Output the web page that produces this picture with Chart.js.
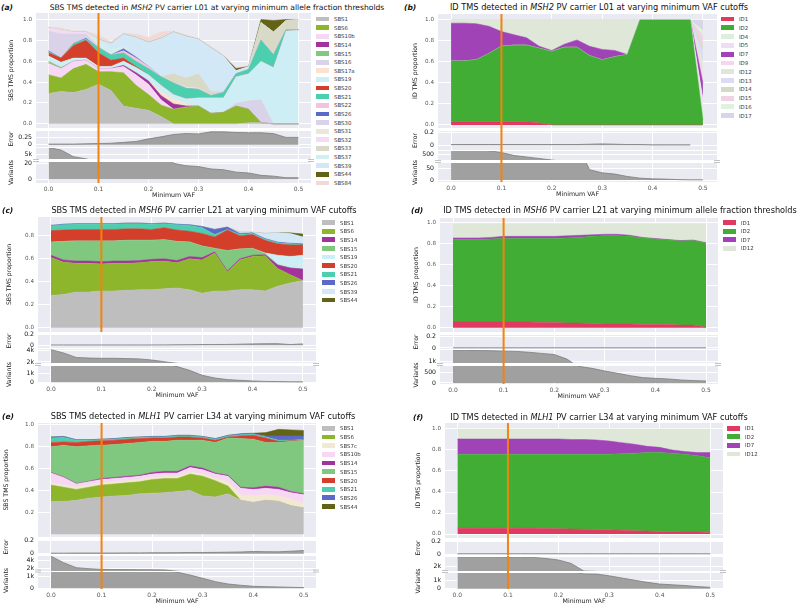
<!DOCTYPE html>
<html>
<head>
<meta charset="utf-8">
<script src="https://cdn.jsdelivr.net/npm/chart.js@4.4.0/dist/chart.umd.min.js"></script>
<style>
  body { margin: 0; background: #fff; font-family: "DejaVu Sans", sans-serif; }
  #fig { position: relative; width: 800px; height: 607px; overflow: hidden; }
  canvas { position: absolute; }
  .ptitle { position: absolute; white-space: nowrap; font-size: 8.2px; color: #111; transform: translate(-50%, -50%); }
  .plabel { position: absolute; font-weight: bold; font-style: italic; font-size: 7.5px; color: #111; transform: translateY(-50%); }
  .leg { position: absolute; font-size: 5.4px; color: #3a3a3a; white-space: nowrap; display: flex; align-items: center; transform: translateY(-50%); }
  .leg .sw { display: inline-block; width: 13px; height: 4.8px; margin-right: 5px; }
</style>
</head>
<body>
<div id="fig"></div>
<script>
// ---- data ----
const vaf = [0, 0.025, 0.05, 0.075, 0.1, 0.125, 0.15, 0.175, 0.2, 0.225, 0.25, 0.275, 0.3, 0.325, 0.35, 0.375, 0.4, 0.425, 0.45, 0.475, 0.5];
const markVaf = 0.1;
const xTicks = [0, 0.1, 0.2, 0.3, 0.4, 0.5];
const propTicks = [0, 0.2, 0.4, 0.6, 0.8, 1.0];
const cPropTicks = [0, 0.2, 0.4, 0.6, 0.8];
const ePropTicks = [0.2, 0.4, 0.6, 0.8, 1.0];
const aErrTicks = [0, 0.25];
const errTicks = [0, 0.2];

// (a) SBS, MSH2 L01
const aSigs = ['SBS1','SBS6','SBS10b','SBS14','SBS15','SBS16','SBS17a','SBS19','SBS20','SBS21','SBS22','SBS26','SBS30','SBS31','SBS32','SBS33','SBS37','SBS39','SBS44','SBS84'];
const aProps = [
  [.29,.31,.30,.33,.38,.32,.17,.15,.13,.07,0,0,0,0,0,0,.01,.01,0,0,0],
  [.18,.13,.23,.24,.12,.18,.32,.22,.15,.11,.14,.16,.17,.10,.11,.17,.13,0,0,0,0],
  [.11,.09,.07,.04,.03,.03,.06,.10,.10,.05,0,0,0,0,0,0,0,0,0,0,0],
  [0,0,0,0,0,0,.01,.02,.03,.04,.05,.01,0,0,0,0,0,0,0,0,0],
  [.02,.01,0,0,0,0,0,0,0,0,0,0,0,0,0,0,0,0,0,0,0],
  [0,0,0,0,0,0,0,0,0,0,0,0,0,0,0,.03,.08,.22,0,0,0],
  [0,0,0,0,0,0,0,0,0,.04,.05,.02,0,0,0,0,0,0,0,0,0],
  [.05,.05,.03,.02,.02,.02,.04,.05,.06,.06,.04,.05,.08,.15,.14,.25,.26,.37,.54,.89,.90],
  [.03,.04,.12,.17,.13,.06,.03,.01,0,0,0,0,0,0,0,0,0,0,0,0,0],
  [.01,0,.02,.01,.05,.05,.05,.05,.06,.08,.11,.10,.08,.02,.05,.03,.04,.20,.12,.01,0],
  [0,0,0,0,0,0,.02,.03,.02,0,0,0,0,0,0,0,0,0,0,0,0],
  [.01,0,0,.01,0,0,.02,.01,0,0,0,0,0,0,0,0,0,0,0,0,0],
  [.19,.23,.09,.04,.01,0,0,0,0,0,0,0,0,0,0,0,0,0,0,0,0],
  [0,0,0,0,0,0,0,0,0,0,0,.01,.01,0,0,0,0,0,0,0,0],
  [.03,.04,.02,.02,.01,0,0,0,0,0,0,0,0,0,0,0,0,0,0,0,0],
  [0,0,0,0,0,0,0,0,0,0,.09,.09,.14,.04,.01,0,0,.17,.22,.09,.10],
  [0,0,0,0,.06,.05,.02,0,0,0,0,0,0,0,0,0,0,0,0,0,0],
  [0,0,0,0,0,.06,.12,.19,.23,.37,.40,.40,.33,.42,.34,.03,.03,0,0,0,0],
  [0,0,0,0,0,0,0,0,0,0,0,0,0,0,0,.02,0,.03,.11,.01,0],
  [.01,.02,.01,.01,.04,.02,.01,.03,.05,.06,.01,.01,.01,.01,.01,.01,.01,0,.01,0,0]
];
const aError = [.02,.02,.02,.03,.04,.05,.08,.11,.20,.27,.35,.38,.37,.44,.44,.42,.41,.41,.38,.25,.25];
const aVariants = [7400,6500,4200,3450,2500,1500,800,300,100,40,20,17,16,13,12,9,8,5,4,2,2];
const aVarHiTicks = [5000];
const aVarLoTicks = [0, 20];

// (b) ID, MSH2 L01
const bSigs = ['ID1','ID2','ID4','ID5','ID7','ID9','ID12','ID13','ID14','ID15','ID16','ID17'];
const bProps = [
  [.03,.03,.03,.03,.03,.03,.03,.02,0,0,0,0,0,0,0,0,0,0,0,0,0],
  [.58,.58,.59,.65,.72,.73,.73,.71,.70,.74,.74,.66,.62,.65,.67,1,1,1,1,1,.05],
  [0,0,0,0,0,0,0,0,0,0,0,0,0,0,0,0,0,0,0,0,.10],
  [0,0,0,0,0,0,0,0,0,0,0,0,0,0,0,0,0,0,0,0,.10],
  [.36,.36,.345,.26,.14,.10,.07,.02,.01,.03,.07,.09,.10,.06,0,0,0,0,0,0,.15],
  [0,0,0,0,0,0,0,0,0,0,0,0,0,0,0,0,0,0,0,0,.10],
  [.03,.03,.035,.06,.11,.14,.17,.25,.29,.23,.19,.25,.28,.29,.33,0,0,0,0,0,.10],
  [0,0,0,0,0,0,0,0,0,0,0,0,0,0,0,0,0,0,0,0,.10],
  [0,0,0,0,0,0,0,0,0,0,0,0,0,0,0,0,0,0,0,0,.05],
  [0,0,0,0,0,0,0,0,0,0,0,0,0,0,0,0,0,0,0,0,.10],
  [0,0,0,0,0,0,0,0,0,0,0,0,0,0,0,0,0,0,0,0,.05],
  [0,0,0,0,0,0,0,0,0,0,0,0,0,0,0,0,0,0,0,0,.10]
];
const bError = [.01,.01,.01,.01,.01,.01,.01,.01,.01,.01,.01,.015,.02,.015,.01,.01,.005,.005,.005,.005,null];
const bVariants = [690,690,680,620,554,445,390,335,280,220,150,43,30,25,15,8,5,4,2,1,1];
const bVarHiTicks = [500];
const bVarLoTicks = [0, 50];

// (c) SBS, MSH6 L21
const cSigs = ['SBS1','SBS6','SBS14','SBS15','SBS19','SBS20','SBS21','SBS26','SBS39','SBS44'];
const cProps = [
  [.28,.29,.31,.31,.32,.32,.325,.33,.33,.34,.345,.33,.30,.32,.32,.33,.33,.32,.36,.39,.41],
  [.33,.28,.25,.25,.235,.24,.235,.235,.245,.24,.22,.27,.29,.33,.165,.26,.29,.305,.155,.07,0],
  [.02,.02,.02,.02,.02,.02,.02,.02,.02,.02,.02,.02,.02,.01,.01,.01,.01,.01,.03,.06,.10],
  [.115,.16,.175,.175,.18,.175,.18,.175,.165,.165,.165,.125,.10,.03,.175,.085,.06,.01,.005,0,0],
  [0,0,0,0,0,0,0,0,0,0,0,0,0,0,0,0,0,.005,.08,.10,.12],
  [.10,.10,.10,.10,.10,.10,.10,.10,.095,.105,.10,.095,.11,.10,.18,.115,.12,.11,.10,.10,.09],
  [.04,.045,.045,.045,.045,.045,.045,.045,.045,.035,.045,.05,.05,.02,.005,.01,.01,.01,.01,.01,0],
  [.005,.005,.005,.005,.005,.005,.005,.005,.005,.005,.005,.005,.01,.045,.02,.01,.005,.005,.005,.005,.01],
  [0,0,0,0,0,0,0,0,0,0,0,0,0,0,0,.01,.005,.045,.08,.085,.06],
  [0,0,0,0,0,0,0,0,0,0,0,0,0,0,0,0,0,0,0,.005,.025]
];
const cError = [.005,.005,.005,.005,.005,.005,.005,.005,.005,.006,.008,.01,.012,.013,.015,.02,.025,.028,.03,.012,.025];
const cVariants = [4180,3600,2800,2700,2650,2650,2600,2550,2350,2050,1750,1330,780,480,300,220,150,100,80,60,50];
const cVarHiTicks = [2000, 4000];
const cVarLoTicks = [0, 1000];

// (d) ID, MSH6 L21
const dSigs = ['ID1','ID2','ID7','ID12'];
const dProps = [
  [.055,.055,.055,.055,.055,.055,.055,.05,.05,.045,.045,.04,.035,.035,.035,.03,.03,.03,.025,.025,.005],
  [.785,.785,.785,.79,.795,.795,.795,.80,.80,.81,.815,.83,.84,.84,.835,.825,.815,.805,.80,.805,.80],
  [.015,.015,.015,.015,.02,.02,.02,.02,.02,.02,.02,.015,.015,.015,.01,.005,.005,.005,.005,.005,.005],
  [.135,.135,.135,.13,.12,.12,.12,.12,.12,.115,.11,.105,.10,.10,.11,.13,.14,.15,.16,.155,.18]
];
const dError = [.003,.003,.003,.003,.003,.003,.003,.003,.003,.003,.003,.003,.003,.003,.003,.003,.003,.003,.003,.003,.003];
const dVariants = [1410,1405,1400,1395,1380,1370,1340,1300,1260,1100,800,710,580,470,355,260,225,195,145,115,95];
const dVarHiTicks = [1000];
const dVarLoTicks = [0, 500];

// (e) SBS, MLH1 L34
const eSigs = ['SBS1','SBS6','SBS7c','SBS10b','SBS14','SBS15','SBS20','SBS21','SBS26','SBS44'];
const eProps = [
  [.30,.30,.31,.33,.34,.35,.355,.37,.375,.38,.39,.40,.35,.34,.37,.31,.29,.31,.30,.26,.24],
  [.15,.13,.10,.10,.11,.11,.115,.11,.125,.13,.12,.15,.18,.15,.07,0,0,0,0,0,0],
  [.02,.02,.02,.02,.02,.02,.02,.02,.02,.02,.02,.02,.02,.02,.04,.05,.06,.05,.05,.06,.04],
  [.09,.07,.03,.03,.03,.03,.03,.03,.03,.03,.03,.04,.04,.04,.05,.06,.06,.06,.06,.06,.08],
  [.005,.005,.005,.005,.01,.01,.01,.01,.015,.015,.015,.015,.015,.01,.01,.01,.015,.02,.02,.01,.01],
  [.235,.29,.335,.325,.305,.30,.30,.30,.285,.275,.285,.235,.255,.28,.34,.445,.445,.40,.41,.46,.49],
  [.04,.03,.04,.04,.04,.04,.04,.035,.03,.03,.03,.03,.02,.02,.01,.025,.035,.04,.01,.005,.005],
  [.04,.04,.02,.01,.01,.01,.01,.01,.01,.01,.01,.01,.01,.01,.01,.01,.01,.01,.01,.005,.005],
  [.01,.01,.005,.005,.005,.005,.005,.005,.005,.005,.005,.005,.005,.005,.005,.005,.005,.01,.04,.04,.03],
  [0,0,0,0,0,0,0,0,0,0,0,0,0,0,0,.005,.005,.03,.06,.055,.05]
];
const eError = [.01,.01,.012,.012,.012,.012,.014,.014,.016,.016,.018,.02,.02,.022,.025,.028,.035,.032,.03,.04,.05];
const eVariants = [5000,3440,2240,2000,1840,1800,1780,1760,1740,1700,1370,1140,860,570,370,260,170,140,115,85,60];
const eVarHiTicks = [2000, 4000];
const eVarLoTicks = [0, 1000];

// (f) ID, MLH1 L34
const fSigs = ['ID1','ID2','ID7','ID12'];
const fProps = [
  [.055,.055,.055,.055,.055,.055,.055,.052,.05,.048,.045,.042,.04,.035,.03,.028,.025,.022,.02,.018,.015],
  [.705,.705,.705,.705,.705,.705,.705,.708,.71,.712,.715,.718,.72,.73,.74,.747,.75,.748,.74,.727,.71],
  [.145,.145,.145,.145,.145,.145,.145,.145,.145,.14,.14,.135,.125,.105,.085,.06,.05,.03,.025,.03,.05],
  [.095,.095,.095,.095,.095,.095,.095,.095,.095,.10,.10,.105,.115,.13,.145,.165,.175,.20,.215,.225,.225]
];
const fError = [.003,.003,.003,.003,.003,.003,.003,.003,.003,.003,.003,.003,.003,.003,.003,.003,.003,.003,.003,.003,.003];
const fVariants = [2460,2460,2460,2460,2450,2440,2430,2380,2310,2150,1800,1780,1570,1300,1040,780,570,480,390,260,175];
const fVarHiTicks = [2000];
const fVarLoTicks = [0, 1000];

// ---- styles ----
const sigColors = {
  SBS1: '#bebebe', SBS6: '#8db62c', SBS7c: '#f3e9d2', SBS10b: '#f6d8f4', SBS14: '#a3329c',
  SBS15: '#80c880', SBS16: '#d9d3ea', SBS17a: '#fbe3d1', SBS19: '#cdeef4', SBS20: '#d33f2a',
  SBS21: '#4ccfae', SBS22: '#f6c3dc', SBS26: '#5b6ac8', SBS30: '#d9d2e8', SBS31: '#e8e9d8',
  SBS32: '#f3dcf3', SBS33: '#d9d9c8', SBS37: '#d3eeee', SBS39: '#d3e8f6', SBS44: '#626317',
  SBS84: '#f1d9d6',
  ID1: '#e03a60', ID2: '#41ad34', ID4: '#daf0dc', ID5: '#f1dcf6', ID7: '#a043b6', ID9: '#f5d6ec',
  ID12: '#dfe8d8', ID13: '#dddaf5', ID14: '#d0dcc6', ID15: '#f1d1e5', ID16: '#def2de', ID17: '#d8d4ea'
};
const AREA_GRAY = '#a0a0a0';
const ORANGE = '#f5820f';

const panels = [
  { x0: 0, label: '(a)', labelX: 1, titleX: 217, titleY: 7, titleSize: 7.6,
    title: ['SBS TMS detected in ', 'MSH2', ' PV carrier L01 at varying minimum allele fraction thresholds'],
    ytitle: 'SBS TMS proportion', ytitleX: 11, plotL: 36, plotR: 311, xmin: -0.025, xmax: 0.525,
    sigs: aSigs, props: aProps, error: aError, variants: aVariants, orangeAll: true,
    prop: { top: 13, bot: 128, min: -0.04, max: 1.062, ticks: propTicks },
    err: { top: 131, bot: 147, min: -0.08, max: 0.47, ticks: aErrTicks },
    vu: { top: 148, bot: 159, min: 3400, max: 7200, ticks: aVarHiTicks },
    vl: { top: 162, bot: 183, min: -4.6, max: 21.7, ticks: aVarLoTicks },
    legX: 316, legY: 19, legDy: 8.63 },
  { x0: 400, label: '(b)', labelX: 404, titleX: 599, titleY: 7, titleSize: 8.2,
    title: ['ID TMS detected in ', 'MSH2', ' PV carrier L01 at varying minimum VAF cutoffs'],
    ytitle: 'ID TMS proportion', ytitleX: 415.5, plotL: 438, plotR: 717, xmin: -0.026, xmax: 0.528,
    sigs: bSigs, props: bProps, error: bError, variants: bVariants, orangeAll: true,
    prop: { top: 14, bot: 128, min: -0.029, max: 1.057, ticks: propTicks },
    err: { top: 131, bot: 150, min: -0.075, max: 0.22, ticks: errTicks },
    vu: { top: 151, bot: 160, min: 280, max: 610, ticks: bVarHiTicks },
    vl: { top: 163, bot: 182, min: -8, max: 71, ticks: bVarLoTicks },
    legX: 721, legY: 19, legDy: 8.79 },
  { x0: 0, label: '(c)', labelX: 2, titleX: 204, titleY: 210, titleSize: 8.2,
    title: ['SBS TMS detected in ', 'MSH6', ' PV carrier L21 at varying minimum VAF cutoffs'],
    ytitle: 'SBS TMS proportion', ytitleX: 9.5, plotL: 38, plotR: 316, xmin: -0.0258, xmax: 0.526,
    sigs: cSigs, props: cProps, error: cError, variants: cVariants, orangeAll: false,
    prop: { top: 217, bot: 332, min: -0.037, max: 0.963, ticks: cPropTicks },
    err: { top: 333.5, bot: 347, min: -0.054, max: 0.216, ticks: errTicks },
    vu: { top: 349, bot: 363, min: 1820, max: 4300, ticks: cVarHiTicks },
    vl: { top: 366, bot: 383, min: -78, max: 1810, ticks: cVarLoTicks },
    legX: 322, legY: 222.7, legDy: 8.6 },
  { x0: 400, label: '(d)', labelX: 411, titleX: 620, titleY: 210, titleSize: 8.2,
    title: ['ID TMS detected in ', 'MSH6', ' PV carrier L21 at varying minimum allele fraction thresholds'],
    ytitle: 'ID TMS proportion', ytitleX: 416.5, plotL: 440, plotR: 718, xmin: -0.0257, xmax: 0.5237,
    sigs: dSigs, props: dProps, error: dError, variants: dVariants, orangeAll: true,
    prop: { top: 218, bot: 332, min: -0.041, max: 1.045, ticks: propTicks },
    err: { top: 335, bot: 349, min: -0.017, max: 0.217, ticks: errTicks },
    vu: { top: 350, bot: 363, min: 960, max: 1420, ticks: dVarHiTicks },
    vl: { top: 366, bot: 384, min: -50, max: 825, ticks: dVarLoTicks },
    legX: 723, legY: 222.7, legDy: 8.53 },
  { x0: 0, label: '(e)', labelX: 2, titleX: 203, titleY: 416, titleSize: 8.2,
    title: ['SBS TMS detected in ', 'MLH1', ' PV carrier L34 at varying minimum VAF cutoffs'],
    ytitle: 'SBS TMS proportion', ytitleX: 6.5, plotL: 38, plotR: 316, xmin: -0.0257, xmax: 0.524,
    sigs: eSigs, props: eProps, error: eError, variants: eVariants, orangeAll: true,
    prop: { top: 423, bot: 537, min: -0.026, max: 1.018, ticks: ePropTicks },
    err: { top: 540, bot: 554, min: -0.003, max: 0.211, ticks: errTicks },
    vu: { top: 555.5, bot: 570, min: 1440, max: 5040, ticks: eVarHiTicks },
    vl: { top: 572, bot: 589, min: -60, max: 1400, ticks: eVarLoTicks },
    legX: 322, legY: 428.3, legDy: 8.7 },
  { x0: 400, label: '(f)', labelX: 413, titleX: 599, titleY: 417, titleSize: 8.2,
    title: ['ID TMS detected in ', 'MLH1', ' PV carrier L34 at varying minimum VAF cutoffs'],
    ytitle: 'ID TMS proportion', ytitleX: 418, plotL: 445, plotR: 723, xmin: -0.0244, xmax: 0.525,
    sigs: fSigs, props: fProps, error: fError, variants: fVariants, orangeAll: true,
    prop: { top: 423, bot: 538, min: -0.038, max: 1.057, ticks: propTicks },
    err: { top: 541, bot: 555, min: -0.016, max: 0.211, ticks: errTicks },
    vu: { top: 556.5, bot: 570, min: 1800, max: 2450, ticks: fVarHiTicks },
    vl: { top: 573, bot: 589, min: -30, max: 1910, ticks: fVarLoTicks },
    legX: 727, legY: 428.3, legDy: 8.57 }
];

// ---- drawing ----
Chart.defaults.font.family = "'DejaVu Sans', sans-serif";
const fig = document.getElementById('fig');
const PAD = 8, PADR = 8, XAX = 16;

const fmtProp = v => v.toFixed(1);
const fmtErr = v => (v === 0 ? '0' : String(v));
const fmtVar = v => (v >= 1000 ? (v / 1000) + 'k' : String(v));
const pts = arr => vaf.map((x, i) => ({ x: x, y: arr[i] }));

const bgPlugin = {
  id: 'panelBg',
  beforeDraw(chart) {
    const a = chart.chartArea, ctx = chart.ctx;
    ctx.save();
    ctx.fillStyle = '#eaeaf2';
    ctx.fillRect(a.left, a.top, a.right - a.left, a.bottom - a.top);
    ctx.restore();
  }
};

function markPlugin(showOrange, gap, isTop, isBottom) {
  return {
    id: 'marks',
    afterDatasetsDraw(chart) {
      const a = chart.chartArea, ctx = chart.ctx;
      if (isBottom) {
        // broken-axis markers between the two variant axes
        const y = a.top - gap / 2;
        ctx.save();
        ctx.strokeStyle = '#b4b4b4';
        ctx.lineWidth = 0.8;
        [a.left, a.right].forEach(x => {
          ctx.beginPath();
          ctx.moveTo(x - 3, y - 1); ctx.lineTo(x + 3, y - 1);
          ctx.moveTo(x - 3, y + 1); ctx.lineTo(x + 3, y + 1);
          ctx.stroke();
        });
        ctx.restore();
      }
      if (!showOrange) return;
      const x = chart.scales.x.getPixelForValue(markVaf);
      ctx.save();
      ctx.strokeStyle = ORANGE;
      ctx.lineWidth = 2;
      ctx.beginPath();
      ctx.moveTo(x, a.top - (isTop ? 0 : gap));
      ctx.lineTo(x, a.bottom);
      ctx.stroke();
      ctx.restore();
    }
  };
}

function addCanvas(left, top, w, h) {
  const c = document.createElement('canvas');
  c.width = w; c.height = h;
  c.style.left = left + 'px'; c.style.top = top + 'px';
  c.style.width = w + 'px'; c.style.height = h + 'px';
  fig.appendChild(c);
  return c;
}

function grayArea(values) {
  return { data: pts(values), backgroundColor: AREA_GRAY, borderColor: '#7c7c7c', borderWidth: 0.8,
           fill: 'origin', pointRadius: 0, tension: 0 };
}

function subChart(p, kind, datasets, gap) {
  const sub = p[kind];
  const isProp = kind === 'prop';
  const isBottom = kind === 'vl';
  const padTop = PAD, padBot = isBottom ? 1 : PAD;
  const axisW = p.plotL - p.x0;
  const w = p.plotR + PADR - p.x0;
  const h = Math.round(padTop + (sub.bot - sub.top) + (isBottom ? XAX : 0) + padBot);
  const cv = addCanvas(p.x0, sub.top - padTop, w, h);
  const yTitle = isProp ? p.ytitle : kind === 'err' ? 'Error' : kind === 'vl' ? 'Variants' : '';
  const fmt = isProp ? fmtProp : kind === 'err' ? fmtErr : fmtVar;

  new Chart(cv, {
    type: 'line',
    data: { datasets: datasets },
    options: {
      responsive: false,
      animation: false,
      devicePixelRatio: 1,
      layout: { padding: { top: padTop, bottom: padBot, left: 0, right: PADR } },
      plugins: { legend: { display: false }, tooltip: { enabled: false } },
      scales: {
        x: {
          type: 'linear', min: p.xmin, max: p.xmax,
          afterBuildTicks: s => { s.ticks = xTicks.map(v => ({ value: v })); },
          afterFit: s => { s.height = isBottom ? XAX : 0; },
          grid: { color: '#ffffff', lineWidth: 1, drawTicks: false },
          border: { display: false },
          ticks: { display: isBottom, padding: 2.5, color: '#555', font: { size: 6 },
                   autoSkip: false, maxRotation: 0, callback: v => v.toFixed(1) },
          title: { display: isBottom, text: 'Minimum VAF', color: '#222', font: { size: 6.3 },
                   padding: { top: 0, bottom: 0 } }
        },
        y: {
          type: 'linear', stacked: isProp, min: sub.min, max: sub.max,
          afterBuildTicks: s => { s.ticks = sub.ticks.map(v => ({ value: v })); },
          afterFit: s => { s.width = axisW; },
          grid: { color: '#ffffff', lineWidth: 1, drawTicks: false },
          border: { display: false },
          ticks: { padding: 4, color: isProp ? '#555' : '#111', font: { size: isProp ? 5.6 : 6.2 },
                   autoSkip: false, callback: v => fmt(v) },
          title: { display: !!yTitle, text: yTitle, color: '#222', font: { size: 6.2 },
                   padding: { top: p.ytitleX - p.x0 - 3.7, bottom: 0 } }
        }
      }
    },
    plugins: [bgPlugin, markPlugin(isProp || p.orangeAll, gap, isProp, isBottom)]
  });
}

function buildPanel(p) {
  const t = document.createElement('div');
  t.className = 'ptitle';
  t.style.left = p.titleX + 'px'; t.style.top = p.titleY + 'px';
  t.style.fontSize = p.titleSize + 'px';
  t.append(p.title[0]);
  const gene = document.createElement('i');
  gene.textContent = p.title[1];
  t.append(gene);
  t.append(p.title[2]);
  fig.appendChild(t);

  const l = document.createElement('div');
  l.className = 'plabel';
  l.textContent = p.label;
  l.style.left = p.labelX + 'px'; l.style.top = p.titleY + 'px';
  fig.appendChild(l);

  p.sigs.forEach((s, i) => {
    const d = document.createElement('div');
    d.className = 'leg';
    d.style.left = p.legX + 'px';
    d.style.top = (p.legY + i * p.legDy) + 'px';
    const sw = document.createElement('span');
    sw.className = 'sw';
    sw.style.background = sigColors[s];
    d.appendChild(sw);
    d.append(s);
    fig.appendChild(d);
  });

  const propSets = p.sigs.map((s, i) => ({
    label: s, data: pts(p.props[i]),
    backgroundColor: sigColors[s], borderColor: sigColors[s], borderWidth: 0.5,
    fill: i === 0 ? 'origin' : '-1', pointRadius: 0, tension: 0
  }));
  subChart(p, 'prop', propSets, 0);
  subChart(p, 'err', [grayArea(p.error)], p.err.top - p.prop.bot);
  subChart(p, 'vu', [grayArea(p.variants)], p.vu.top - p.err.bot);
  subChart(p, 'vl', [grayArea(p.variants)], p.vl.top - p.vu.bot);
}

panels.forEach(buildPanel);
</script>
</body>
</html>
